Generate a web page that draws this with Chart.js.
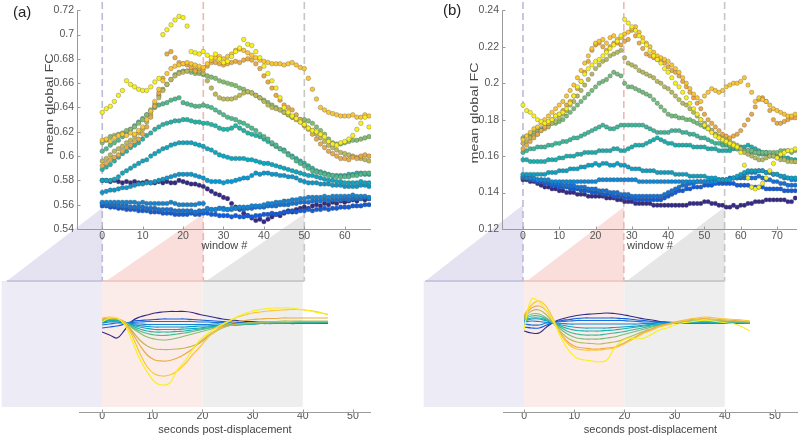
<!DOCTYPE html>
<html><head><meta charset="utf-8">
<script src="https://cdn.jsdelivr.net/npm/chart.js@4.4.1/dist/chart.umd.min.js"></script>
<style>
html,body{margin:0;padding:0;background:#fff;}
#wrap{position:relative;width:800px;height:436px;overflow:hidden;background:#fff;}
canvas{position:absolute;top:0;}
</style></head><body><div id="wrap">
<canvas id="botA" width="400" height="436" style="left:0px"></canvas>
<canvas id="topA" width="400" height="436" style="left:0px"></canvas>
<canvas id="botB" width="400" height="436" style="left:400px"></canvas>
<canvas id="topB" width="400" height="436" style="left:400px"></canvas>
</div>
<script>
// ---------------- DATA ----------------
const windowsA = Array.from({length: 67}, (_, i) => i);
const windowsB = Array.from({length: 76}, (_, i) => i);
const seconds = Array.from({length: 31}, (_, i) => i * 1.5);

const xTicksA = [0, 10, 20, 30, 40, 50, 60];
const xTicksB = [0, 10, 20, 30, 40, 50, 60, 70];
const yTicksA = [0.54, 0.56, 0.58, 0.60, 0.62, 0.64, 0.66, 0.68, 0.70, 0.72];
const yTicksB = [0.12, 0.14, 0.16, 0.18, 0.20, 0.22, 0.24];
const secTicks = [0, 10, 20, 30, 40, 50];
const phaseWindowsA = [0, 25, 50];
const phaseWindowsB = [0, 27.78, 55.56];
const phaseSeconds = [-20, 0, 20, 40];

// (a) mean global FC per window, one array per displacement-magnitude group
const fcA1 = [.580,.580,.579,.580,.579,.578,.579,.578,.579,.578,.578,.579,.578,.578,.579,.578,.579,.578,.578,.580,
.579,.578,.577,.577,.576,.575,.573,.571,.569,.568,.566,.565,.561,.558,.556,.553,.551,.549,.547,.548,
.546,.548,.550,.552,.551,.553,.555,.554,.556,.557,.558,.557,.559,.560,.559,.561,.560,.562,.561,.563,
.562,.563,.564,.563,.565,.564,.565];
const fcA2 = [.559,.559,.558,.558,.557,.557,.556,.556,.556,.555,.555,.555,.554,.554,.554,.553,.553,.553,.552,.552,
.552,.552,.553,.552,.552,.553,.553,.552,.552,.551,.551,.551,.550,.551,.550,.550,.551,.550,.551,.551,
.552,.552,.553,.552,.553,.554,.554,.555,.554,.555,.555,.556,.555,.556,.556,.557,.556,.557,.557,.558,
.558,.558,.559,.559,.559,.560,.560];
const fcA3 = [.561,.560,.560,.560,.559,.559,.559,.558,.558,.558,.558,.557,.557,.557,.556,.556,.556,.556,.555,.555,
.555,.555,.555,.554,.555,.555,.556,.556,.556,.557,.557,.556,.556,.557,.557,.556,.557,.557,.558,.558,
.558,.559,.559,.559,.560,.560,.560,.561,.561,.562,.562,.562,.563,.563,.563,.564,.563,.564,.564,.564,
.565,.564,.565,.565,.565,.566,.565];
const fcA4 = [.562,.562,.562,.562,.562,.562,.562,.562,.562,.561,.562,.561,.561,.561,.561,.561,.561,.562,.561,.560,
.560,.560,.560,.560,.561,.561,.557,.556,.556,.557,.556,.556,.557,.557,.558,.558,.558,.559,.559,.559,
.560,.561,.561,.562,.562,.563,.563,.564,.564,.565,.565,.566,.566,.566,.566,.567,.566,.567,.567,.567,
.567,.567,.568,.567,.567,.567,.566];
const fcA5 = [.570,.571,.572,.572,.573,.574,.574,.575,.576,.577,.577,.578,.578,.579,.580,.581,.582,.583,.584,.585,
.585,.585,.585,.584,.583,.582,.580,.579,.579,.579,.578,.579,.579,.580,.581,.582,.582,.584,.586,.585,
.586,.586,.585,.585,.584,.584,.583,.583,.582,.580,.579,.578,.578,.578,.577,.577,.577,.576,.576,.576,
.575,.575,.575,.575,.576,.576,.575];
const fcA6 = [.580,.580,.580,.581,.583,.586,.588,.590,.592,.594,.596,.597,.600,.602,.604,.606,.607,.609,.610,.611,
.611,.611,.611,.610,.609,.608,.606,.605,.603,.601,.600,.599,.598,.598,.598,.598,.597,.597,.596,.595,
.594,.594,.593,.592,.591,.590,.589,.588,.587,.586,.585,.584,.584,.583,.582,.581,.580,.580,.579,.579,
.578,.578,.578,.578,.579,.578,.578];
const fcA7 = [.589,.591,.593,.596,.599,.602,.604,.607,.609,.611,.614,.617,.619,.622,.624,.626,.627,.628,.629,.629,
.630,.630,.629,.628,.628,.627,.627,.626,.625,.623,.622,.622,.623,.625,.623,.621,.619,.618,.617,.616,
.614,.612,.610,.608,.606,.605,.602,.600,.598,.596,.594,.592,.590,.588,.587,.586,.585,.584,.584,.584,
.584,.585,.585,.586,.586,.585,.585];
const fcA8 = [.604,.606,.609,.611,.613,.616,.619,.622,.625,.628,.631,.634,.637,.640,.642,.643,.644,.646,.647,.648,
.644,.643,.642,.641,.641,.642,.641,.640,.638,.636,.634,.632,.631,.630,.628,.627,.625,.623,.621,.618,
.616,.614,.611,.609,.606,.604,.601,.599,.596,.594,.592,.590,.588,.587,.586,.585,.584,.584,.583,.583,
.583,.583,.584,.584,.585,.586,.586];
const fcA9 = [.611,.613,.616,.617,.618,.619,.621,.622,.624,.627,.630,.634,.638,.643,.650,.655,.659,.663,.667,.669,
.670,.670,.669,.668,.668,.667,.666,.665,.664,.662,.661,.660,.659,.658,.656,.655,.653,.652,.650,.648,
.646,.644,.642,.640,.638,.636,.634,.632,.631,.630,.630,.629,.627,.624,.621,.618,.614,.611,.610,.610,
.611,.612,.613,.613,.614,.615,.616];
const fcA10 = [.596,.598,.601,.604,.606,.608,.611,.613,.616,.619,.622,.628,.634,.641,.648,.654,.659,.663,.666,.668,
.669,.670,.671,.671,.670,.668,.662,.656,.651,.648,.647,.647,.647,.648,.650,.652,.653,.652,.650,.648,
.645,.642,.640,.639,.638,.636,.634,.632,.630,.628,.625,.623,.621,.618,.615,.612,.609,.607,.605,.603,
.602,.601,.600,.599,.598,.597,.596];
const fcA11 = [.592,.594,.597,.599,.601,.604,.607,.609,.612,.614,.618,.624,.632,.641,.652,.664,.684,.686,.681,.677,
.676,.675,.673,.670,.672,.671,.674,.677,.677,.676,.675,.676,.677,.678,.677,.679,.680,.679,.676,.672,
.666,.661,.656,.650,.646,.642,.640,.638,.634,.630,.626,.622,.618,.614,.610,.607,.604,.602,.600,.598,
.598,.597,.599,.598,.600,.601,.600];
const fcA12 = [.613,.614,.612,.615,.617,.618,.617,.619,.618,.621,.624,.630,.637,.645,.655,.662,.668,.672,.674,.675,
.676,.677,.676,.675,.674,.673,.676,.679,.681,.682,.680,.682,.684,.687,.688,.687,.685,.683,.681,.679,
.678,.677,.676,.676,.676,.675,.676,.677,.675,.673,.672,.664,.655,.647,.640,.638,.636,.635,.634,.633,
.633,.633,.634,.632,.632,.634,.633];
const fcA13 = [.636,.639,.641,.645,.650,.654,.662,.659,.657,.655,.654,.654,.657,.661,.664,.700,.704,.708,.712,.715,
.714,.707,.686,.685,.684,.686,.683,.681,.684,.680,.677,.678,.682,.686,.689,.696,.692,.691,.686,.681,
.674,.668,.662,.656,.648,.640,.636,.633,.631,.628,.626,.623,.621,.620,.618,.616,.612,.610,.609,.611,
.612,.614,.617,.622,.627,.632,.624];

// (b) mean global FC per window
const fcB1 = [.147,.147,.146,.146,.145,.144,.143,.143,.142,.142,.141,.141,.140,.140,.140,.139,.139,.139,.138,.138,
.138,.138,.138,.137,.137,.137,.136,.136,.135,.135,.135,.134,.134,.134,.134,.134,.133,.133,.133,.133,
.133,.133,.133,.133,.133,.133,.134,.134,.134,.134,.135,.135,.134,.134,.133,.133,.132,.132,.133,.132,
.133,.133,.134,.134,.135,.135,.135,.136,.136,.136,.136,.136,.136,.135,.135,.137];
const fcB2 = [.148,.148,.147,.147,.146,.146,.145,.145,.144,.144,.143,.143,.143,.142,.142,.142,.141,.141,.141,.140,
.140,.140,.139,.139,.139,.138,.138,.138,.137,.137,.137,.136,.136,.136,.136,.136,.136,.136,.136,.137,
.138,.139,.140,.141,.141,.142,.142,.143,.143,.143,.144,.144,.144,.145,.145,.145,.145,.145,.145,.144,
.144,.144,.144,.143,.143,.143,.143,.142,.142,.142,.142,.142,.141,.141,.141,.141];
const fcB3 = [.148,.148,.148,.147,.147,.147,.146,.146,.145,.145,.145,.144,.144,.144,.144,.143,.143,.143,.142,.142,
.142,.141,.141,.141,.140,.140,.140,.139,.139,.139,.138,.138,.138,.138,.138,.138,.138,.138,.138,.139,
.140,.141,.142,.143,.144,.144,.145,.145,.146,.146,.146,.146,.147,.147,.147,.147,.147,.148,.148,.148,
.148,.148,.148,.148,.148,.149,.148,.147,.147,.146,.146,.145,.145,.144,.144,.144];
const fcB4 = [.149,.148,.148,.148,.147,.147,.147,.147,.146,.146,.146,.146,.146,.146,.146,.146,.146,.146,.146,.146,
.146,.147,.147,.147,.147,.147,.147,.147,.147,.147,.147,.147,.146,.146,.146,.146,.146,.146,.146,.146,
.146,.146,.146,.146,.146,.146,.146,.146,.146,.146,.146,.146,.146,.146,.147,.147,.147,.147,.148,.148,
.149,.150,.151,.151,.151,.152,.152,.151,.151,.150,.150,.149,.148,.148,.147,.147];
const fcB5 = [.150,.150,.150,.150,.150,.150,.150,.151,.151,.151,.152,.152,.152,.153,.153,.153,.154,.154,.155,.155,
.156,.155,.156,.156,.155,.155,.156,.155,.155,.154,.153,.153,.153,.152,.152,.152,.152,.151,.151,.151,
.151,.151,.150,.150,.150,.150,.149,.149,.149,.149,.149,.148,.148,.148,.147,.147,.147,.147,.148,.149,
.150,.151,.152,.152,.152,.152,.152,.151,.151,.150,.150,.149,.149,.148,.148,.148];
const fcB6 = [.158,.158,.157,.157,.157,.157,.157,.158,.158,.158,.159,.159,.160,.160,.160,.161,.161,.162,.162,.162,
.162,.163,.163,.163,.163,.164,.164,.163,.163,.164,.165,.166,.166,.166,.167,.168,.169,.170,.169,.168,
.167,.167,.166,.166,.166,.166,.166,.165,.165,.165,.165,.164,.164,.164,.163,.163,.163,.163,.164,.164,
.165,.165,.166,.165,.164,.163,.162,.162,.161,.161,.160,.160,.159,.159,.158,.158];
const fcB7 = [.162,.163,.164,.164,.165,.165,.165,.166,.166,.167,.167,.168,.168,.169,.170,.170,.171,.172,.173,.174,
.175,.176,.177,.176,.175,.175,.176,.177,.177,.177,.177,.177,.177,.177,.176,.175,.174,.173,.173,.173,
.173,.174,.174,.174,.173,.173,.172,.172,.171,.170,.170,.169,.168,.167,.167,.166,.166,.165,.165,.164,
.164,.163,.163,.162,.162,.161,.161,.161,.160,.160,.160,.159,.159,.158,.158,.157];
const fcB8 = [.170,.171,.172,.173,.174,.175,.176,.177,.178,.178,.179,.180,.182,.184,.186,.188,.190,.192,.194,.196,
.198,.200,.201,.202,.204,.206,.205,.204,.200,.198,.198,.197,.196,.195,.194,.193,.191,.189,.187,.185,
.183,.182,.182,.181,.181,.180,.180,.179,.178,.177,.176,.175,.174,.172,.170,.168,.167,.166,.165,.164,
.164,.163,.163,.163,.162,.162,.162,.162,.162,.162,.162,.163,.163,.163,.162,.163];
const fcB9 = [.167,.168,.170,.171,.172,.174,.175,.176,.178,.179,.181,.183,.185,.188,.190,.193,.196,.199,.202,.205,
.208,.210,.212,.213,.215,.216,.217,.218,.214,.211,.210,.209,.207,.206,.205,.204,.203,.201,.200,.198,
.197,.195,.193,.191,.189,.188,.186,.184,.182,.180,.178,.176,.174,.172,.171,.170,.169,.168,.167,.166,
.164,.162,.161,.160,.159,.158,.158,.159,.160,.160,.159,.158,.158,.157,.157,.157];
const fcB10 = [.164,.166,.168,.170,.172,.174,.176,.178,.180,.182,.183,.185,.188,.190,.193,.197,.201,.206,.212,.218,
.221,.222,.220,.218,.220,.222,.222,.221,.223,.224,.229,.226,.222,.219,.216,.215,.214,.213,.212,.211,
.209,.207,.206,.204,.201,.198,.195,.192,.189,.186,.183,.180,.178,.176,.174,.172,.171,.170,.171,.172,
.174,.177,.180,.183,.187,.191,.192,.190,.185,.180,.178,.178,.179,.180,.181,.181];
const fcB11 = [.169,.171,.173,.175,.176,.178,.180,.182,.184,.186,.188,.190,.193,.196,.199,.203,.207,.211,.215,.219,
.222,.223,.224,.222,.225,.226,.224,.225,.227,.228,.230,.231,.228,.225,.222,.220,.217,.215,.214,.213,
.212,.210,.208,.206,.203,.200,.197,.194,.192,.190,.193,.195,.197,.196,.195,.196,.198,.199,.200,.200,
.201,.203,.199,.195,.190,.192,.191,.190,.188,.186,.185,.184,.183,.182,.182,.183];
const fcB12 = [.188,.185,.184,.182,.180,.179,.178,.179,.180,.182,.183,.184,.186,.189,.193,.198,.201,.205,.208,.210,
.212,.213,.215,.217,.219,.221,.223,.226,.235,.233,.231,.229,.226,.223,.221,.218,.215,.213,.211,.208,
.206,.203,.200,.198,.195,.192,.189,.186,.183,.180,.177,.175,.173,.171,.170,.169,.168,.167,.166,.165,
.162,.155,.148,.143,.142,.143,.145,.148,.152,.156,.159,.161,.162,.163,.163,.164];

// post-displacement FC time courses (arbitrary units, 0 = baseline), sampled every 1.5 s
const tcA1 = [-9,-12,-15,-7,2,6,8,10,11,11.5,11.5,11.5,10.5,8.5,7,5.5,4,3,2.5,1.5,1.5,1,1,0.5,0.5,0.5,0.5,0,0,0,0];
const tcA2 = [-5,-4,-3,-1,1.5,2.5,3,3.5,4,4,4,4,3.5,3,2.5,2,1.5,1,0.5,0.5,0,0,0,0,0,-0.5,-0.5,-0.5,-0.5,-0.5,-0.5];
const tcA3 = [-2,-1,0,0,0.5,1,1.5,1.5,1.5,1.5,1.5,1.5,1.5,1,1,0.5,0.5,0,0,0,0,0,-0.5,-0.5,-0.5,-0.5,-0.5,-0.5,-0.5,-0.5,-0.5];
const tcA4 = [0,1,1,0,-0.5,-1,-1.5,-1.5,-1.5,-1.5,-1.5,-1.5,-1.5,-1.5,-1.5,-1,-1,-1,-0.5,-0.5,-0.5,-0.5,-0.5,0,0,0,0,0,0,0,0];
const tcA5 = [1,2,2,0.5,-1.5,-2.5,-3.5,-4,-4,-4,-4,-4,-3.5,-3,-3,-2.5,-2,-1.5,-1.5,-1,-1,-0.5,-0.5,0,0,0,0,0,0,0.5,0.5];
const tcA6 = [1,2.5,2.5,1,-2,-4,-5.5,-6.5,-6.5,-6.5,-6.5,-6,-5.5,-5,-4,-3.5,-3,-2.5,-2,-1.5,-1,-0.5,-0.5,0,0,0,0.5,0.5,0.5,0.5,0.5];
const tcA7 = [2,3,3,1,-3,-6,-8,-9,-9,-9,-8.5,-8,-7,-6,-5,-4,-3,-2.5,-2,-1.5,-1,-0.5,0,0,0,0.5,0.5,0.5,0.5,0.5,0.5];
const tcA8 = [2,3.5,3.5,1,-4,-8,-10.5,-12,-12.5,-12,-11,-10,-8.5,-7,-5.5,-4,-3,-2,-1.5,-1,-0.5,0,0,0.5,0.5,0.5,1,1,1,1,1];
const tcA9 = [3,4,4,1,-5,-10,-14,-16,-17,-16.5,-15,-13,-11,-9,-7,-5,-3.5,-2,-1,-0.5,0,0.5,0.5,1,1,1,1.5,1.5,1.5,1.5,1.5];
const tcA10 = [3,4.5,4,1,-8,-17,-23,-26,-26.5,-26.5,-26,-25,-23,-20,-14,-9,-5,-2.5,-1,0,0.5,1,1.5,1.5,2,2,2,2,2,2,2];
const tcA11 = [4,5,4.5,0,-10,-22,-32,-37,-38,-37.5,-35,-31,-26,-19,-13,-8,-3.5,-0.5,1.5,2.5,3.5,4,4.5,4.5,5,5,5,5,5,5,5];
const tcA12 = [5,6,5,0,-13,-30,-44,-51,-53,-52,-48,-41,-32,-24,-15,-8,-2,2.5,6,8,10,11,12,12.5,13,13.5,13.5,13,12,10.5,8];
const tcA13 = [1,5,5,-2,-18,-36,-49,-59,-62,-60,-47,-38,-27,-17,-11,-5.5,-1,2.5,6.5,9.5,12,13.5,14.5,15,15,15,14,13,11.5,10,9];

const tcB1 = [-8,-10,-10,-4,1,4,6,7.5,8.5,9,9.5,10,9.5,8.5,7,5.5,4,3,1.5,1,0.5,0,0,0,0,0,0,0,0,0,0];
const tcB2 = [-4,-5,-5,-2,1,2.5,3.5,4.5,5,5,5,5,5,4.5,4,3,2.5,1.5,1,0.5,0,0,0,0,0,0,0,0,0,0,0];
const tcB3 = [-1,-2,-2,0,0.5,1.5,2,2.5,2.5,2.5,2.5,2.5,2.5,2.5,2,1.5,1,1,0.5,0,0,0,0,0,0,0,0,0,0,0,0];
const tcB4 = [1,2,1.5,0.5,0,-0.5,-1,-1,-1,-1,-1,-1,-1,-1,-1,-1,-0.5,-0.5,0,0,0,0,0.5,0.5,0,0,0,0,0,0,0.5];
const tcB5 = [2,4,4,2,0,-2,-3.5,-4.5,-5,-5,-5,-5,-4.5,-4,-3.5,-3,-2,-1.5,-1,-0.5,0,0,0.5,0.5,0.5,0,0,0.5,0.5,0,0];
const tcB6 = [3,5,5,3,0,-3.5,-6,-7.5,-8,-8,-8,-7.5,-7,-6,-5,-4,-3,-2,-1.5,-0.5,0,0.5,0.5,1,1,0.5,0.5,1,1,0.5,0];
const tcB7 = [4,7,7,4,0,-5,-9,-11,-12,-12,-12,-11,-10,-9,-7.5,-6,-4.5,-3,-2,-1,0,0.5,1,1,1.5,1.5,1,1,1,0.5,0];
const tcB8 = [5,9,9,5,-1,-7,-12,-15,-16,-16,-16,-15,-14,-12,-10,-8,-6,-4,-2.5,-1,0,1,1.5,2,2,2,1.5,1.5,1,1,0.5];
const tcB9 = [6,12,13,8,-1,-10,-16,-19,-20,-20.5,-21,-20,-19,-17,-14,-11,-8,-5.5,-3,-1.5,0,1.5,2.5,3,3,3,2.5,2,2,1.5,1];
const tcB10 = [7,15,17,12,0,-12,-20,-24,-25,-26,-26,-25,-24,-21,-17,-13,-9,-6,-3,-1,1,2.5,3.5,4,4.5,4,3.5,3,2.5,2,1.5];
const tcB11 = [8,18,22,16,2,-13,-22,-26,-27,-27,-27,-26,-25,-22,-18,-14,-10,-7,-4,-2,0,2,4,5,6,5.5,4.5,4,3.5,3,2];
const tcB12 = [-6,24,21,12,0,-16,-28,-35,-37,-38,-39,-37,-25,-18,-15,-16,-15,-11,-7,-5,-2,0,1,2,3,2,1,0,-1,-4,-8];

// ---------------- STYLE ----------------
const colorsA = ['#352a87','#0f5cdd','#1373d8','#1485d4','#0a98d0','#0aa8c2','#24b4a6','#4fba8c','#84bd70','#bdb95a','#e9ab42','#fbc632','#f8f01a'];
const colorsB = ['#352a87','#0f5cdd','#1373d8','#1288d6','#0aa2c8','#1ab0b0','#3cb89a','#74bd7c','#b6ba5e','#ecab42','#fbc632','#f8f01a'];
const FONT = '"Liberation Sans", Arial, Helvetica, sans-serif';
const AXIS = '#9b9b9b';
const phaseRect = ['#edebf5', '#fcece9', '#eeeeee'];
const phaseTri = ['#e5e3f1', '#f9dedb', '#e6e6e6'];
const phaseBar = ['#c9c6df', '#f1c9c5', '#cacaca'];
const phaseDash = ['#bdbad9', '#ecb7b5', '#c6c6c6'];

Chart.defaults.font.family = FONT;
Chart.defaults.font.size = 10.5;
Chart.defaults.color = '#555';

function fmtTick(v) { return String(parseFloat(Number(v).toFixed(2))); }

function topDecor(cfg) {
  return { id: 'topDecor', afterDraw(chart) {
    const ctx = chart.ctx, a = chart.chartArea, xs = chart.scales.x, ys = chart.scales.y;
    ctx.save();
    ctx.strokeStyle = AXIS; ctx.lineWidth = 1;
    const yb = Math.round(a.bottom) + 0.5, xl = Math.round(a.left) - 0.5;
    ctx.beginPath();
    ctx.moveTo(xl, yb); ctx.lineTo(a.right, yb);
    ctx.moveTo(xl, a.top); ctx.lineTo(xl, yb);
    xs.ticks.forEach(t => { const p = Math.round(xs.getPixelForValue(t.value)) + 0.5; ctx.moveTo(p, yb); ctx.lineTo(p, yb - 3); });
    ys.ticks.forEach(t => { const p = Math.round(ys.getPixelForValue(t.value)) + 0.5; ctx.moveTo(xl, p); ctx.lineTo(xl + 3, p); });
    ctx.stroke();
    ctx.fillStyle = '#444'; ctx.font = '11px ' + FONT; ctx.textAlign = 'center'; ctx.textBaseline = 'middle';
    ctx.fillText(cfg.xTitle, (a.left + a.right) / 2, cfg.xTitleY);
    ctx.save(); ctx.translate(cfg.yTitleX, cfg.yTitleY); ctx.rotate(-Math.PI / 2); ctx.scale(1.3, 1);
    ctx.fillText(cfg.yTitle, 0, 0); ctx.restore();
    ctx.fillStyle = '#222'; ctx.font = '15px ' + FONT; ctx.textAlign = 'left';
    ctx.fillText(cfg.panel, cfg.panelX, cfg.panelY);
    ctx.restore();
  }};
}

function makeTop(id, cfg) {
  const n = cfg.series.length;
  const ds = cfg.series.map((vals, i) => ({
    data: vals.map((v, k) => ({x: cfg.windows[k], y: v})),
    showLine: false, pointRadius: cfg.dot, pointHoverRadius: cfg.dot,
    pointBackgroundColor: cfg.colors[i], pointBorderColor: 'rgba(80,80,80,0.45)', pointBorderWidth: 0.7,
    order: n - i
  }));
  return new Chart(document.getElementById(id), {
    type: 'line',
    data: {datasets: ds},
    options: {
      responsive: false, animation: false, devicePixelRatio: 1, events: [],
      layout: {padding: {left: 0, top: cfg.padTop, right: cfg.padRight, bottom: 0}},
      plugins: {legend: {display: false}, tooltip: {enabled: false}},
      scales: {
        x: {type: 'linear', min: cfg.xMin, max: cfg.xMax,
          grid: {display: false, drawTicks: false}, border: {display: false},
          afterBuildTicks: s => { s.ticks = cfg.xTicks.map(v => ({value: v})); },
          afterFit: s => { s.height = cfg.xAxisH; },
          ticks: {padding: 1, autoSkip: false, maxRotation: 0, callback: v => String(v)}},
        y: {type: 'linear', min: cfg.yMin, max: cfg.yMax,
          grid: {display: false, drawTicks: false}, border: {display: false},
          afterBuildTicks: s => { s.ticks = cfg.yTicks.map(v => ({value: v})); },
          afterFit: s => { s.width = cfg.yAxisW; },
          ticks: {padding: 4, autoSkip: false, callback: fmtTick}}
      }
    },
    plugins: [topDecor(cfg)]
  });
}

function bridgeDecor(cfg, top) {
  return { id: 'bridge', beforeDatasetsDraw(chart) {
    const ctx = chart.ctx, xb = chart.scales.x, xt = top.scales.x;
    const px = v => xb.getPixelForValue(v);
    const edges = phaseSeconds.map(px);
    const marks = cfg.windowMarks.map(v => xt.getPixelForValue(v));
    const barY = cfg.barY;
    ctx.save();
    for (let k = 0; k < 3; k++) {
      ctx.fillStyle = phaseRect[k];
      ctx.fillRect(edges[k], barY, edges[k + 1] - edges[k], cfg.rectBottom - barY);
    }
    const starts = [px(cfg.barStart), marks[0] + 4, marks[1] + 3];
    for (let k = 0; k < 3; k++) {
      ctx.fillStyle = phaseTri[k];
      ctx.beginPath(); ctx.moveTo(starts[k], barY); ctx.lineTo(marks[k], cfg.triTop[k]); ctx.lineTo(marks[k], barY); ctx.closePath(); ctx.fill();
    }
    const segStart = [starts[0], marks[0], marks[1]];
    ctx.lineWidth = 2;
    for (let k = 0; k < 3; k++) {
      ctx.strokeStyle = phaseBar[k];
      ctx.beginPath(); ctx.moveTo(segStart[k], barY); ctx.lineTo(marks[k], barY); ctx.stroke();
    }
    ctx.setLineDash([7, 4]); ctx.lineWidth = 1.6;
    for (let k = 0; k < 3; k++) {
      ctx.strokeStyle = phaseDash[k];
      ctx.beginPath(); ctx.moveTo(marks[k], 2); ctx.lineTo(marks[k], barY); ctx.stroke();
    }
    ctx.restore();
  }};
}

function bottomAxis(cfg) {
  return { id: 'bottomAxis', afterDraw(chart) {
    const ctx = chart.ctx, a = chart.chartArea, xs = chart.scales.x;
    ctx.save();
    ctx.strokeStyle = AXIS; ctx.lineWidth = 1;
    const yb = Math.round(a.bottom) + 0.5;
    ctx.beginPath(); ctx.moveTo(a.left, yb); ctx.lineTo(a.right, yb);
    xs.ticks.forEach(t => { const p = Math.round(xs.getPixelForValue(t.value)) + 0.5; ctx.moveTo(p, yb); ctx.lineTo(p, yb - 3); });
    ctx.stroke();
    ctx.fillStyle = '#444'; ctx.font = '11px ' + FONT; ctx.textAlign = 'center'; ctx.textBaseline = 'middle';
    ctx.fillText(cfg.xTitle, (a.left + a.right) / 2, cfg.xTitleY);
    ctx.restore();
  }};
}

function makeBottom(id, cfg, top) {
  const n = cfg.lines.length;
  const ds = cfg.lines.map((vals, i) => ({
    data: vals.map((v, k) => ({x: seconds[k], y: v})),
    borderColor: cfg.colors[i], borderWidth: 1.2, pointRadius: 0, tension: 0.4, fill: false,
    order: n - i
  }));
  return new Chart(document.getElementById(id), {
    type: 'line',
    data: {datasets: ds},
    options: {
      responsive: false, animation: false, devicePixelRatio: 1, events: [],
      layout: {padding: {left: cfg.padLeft, top: cfg.padTop, right: cfg.padRight, bottom: 0}},
      plugins: {legend: {display: false}, tooltip: {enabled: false}},
      scales: {
        x: {type: 'linear', min: cfg.xMin, max: cfg.xMax,
          grid: {display: false, drawTicks: false}, border: {display: false},
          afterBuildTicks: s => { s.ticks = secTicks.map(v => ({value: v})); },
          afterFit: s => { s.height = cfg.xAxisH; },
          ticks: {padding: -2, autoSkip: false, maxRotation: 0, callback: v => String(v)}},
        y: {display: false, min: -89, max: 41}
      }
    },
    plugins: [bridgeDecor(cfg, top), bottomAxis(cfg)]
  });
}

const topA = makeTop('topA', {
  windows: windowsA, series: [fcA1,fcA2,fcA3,fcA4,fcA5,fcA6,fcA7,fcA8,fcA9,fcA10,fcA11,fcA12,fcA13], colors: colorsA,
  xMin: -6, xMax: 66.5, yMin: 0.54, yMax: 0.72, xTicks: xTicksA, yTicks: yTicksA, dot: 2.3,
  padTop: 10, padRight: 29, yAxisW: 78, xAxisH: 207,
  xTitle: 'window #', xTitleY: 246, yTitle: 'mean global FC', yTitleX: 50, yTitleY: 104,
  panel: '(a)', panelX: 13, panelY: 13
});
const topB = makeTop('topB', {
  windows: windowsB, series: [fcB1,fcB2,fcB3,fcB4,fcB5,fcB6,fcB7,fcB8,fcB9,fcB10,fcB11,fcB12], colors: colorsB,
  xMin: -5.5, xMax: 75.5, yMin: 0.12, yMax: 0.24, xTicks: xTicksB, yTicks: yTicksB, dot: 2.2,
  padTop: 10, padRight: 3, yAxisW: 103, xAxisH: 207,
  xTitle: 'window #', xTitleY: 246, yTitle: 'mean global FC', yTitleX: 75, yTitleY: 113,
  panel: '(b)', panelX: 43, panelY: 11
});
makeBottom('botA', {
  lines: [tcA1,tcA2,tcA3,tcA4,tcA5,tcA6,tcA7,tcA8,tcA9,tcA10,tcA11,tcA12,tcA13], colors: colorsA,
  xMin: -4.6, xMax: 53.6, padLeft: 79, padRight: 29, padTop: 282, xAxisH: 24,
  windowMarks: phaseWindowsA, barY: 281, rectBottom: 407, barStart: -19, triTop: [208, 214, 214],
  xTitle: 'seconds post-displacement', xTitleY: 429.5
}, topA);
makeBottom('botB', {
  lines: [tcB1,tcB2,tcB3,tcB4,tcB5,tcB6,tcB7,tcB8,tcB9,tcB10,tcB11,tcB12], colors: colorsB,
  xMin: -4.2, xMax: 54.6, padLeft: 103, padRight: 2, padTop: 282, xAxisH: 24,
  windowMarks: phaseWindowsB, barY: 281, rectBottom: 407, barStart: -19.7, triTop: [205, 207, 207],
  xTitle: 'seconds post-displacement', xTitleY: 429.5
}, topB);
</script></body></html>
